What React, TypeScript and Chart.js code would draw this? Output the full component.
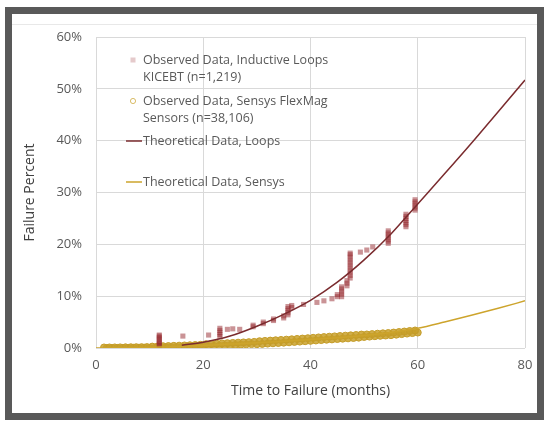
import React, { useEffect, useRef } from "react";
import { Chart, registerables } from "chart.js";

Chart.register(...registerables);

// ---------- data (time in months, failure in percent) ----------
const xTickValues = [0, 20, 40, 60, 80];
const yTickValues = [0, 10, 20, 30, 40, 50, 60];

const legendLines = [
  ["Observed Data, Inductive Loops", "KICEBT (n=1,219)"],
  ["Observed Data, Sensys FlexMag", "Sensors (n=38,106)"],
  ["Theoretical Data, Loops"],
  ["Theoretical Data, Sensys"],
];

const loopObsX = [
  11.8, 11.8, 11.8, 11.8, 11.8, 11.8, 11.8, 11.8,
  16.2, 21.0,
  23.1, 23.1, 23.1, 23.1, 23.1,
  24.5, 25.5, 26.8,
  29.3, 29.3, 31.2, 31.2, 33.1, 33.1, 35.0, 35.0,
  35.8, 35.8, 35.8, 35.8, 35.8, 36.5, 36.5,
  38.7, 41.2, 42.5, 44.0, 45.0, 45.0,
  45.8, 45.8, 45.8, 45.8, 45.8, 46.8, 46.8, 46.8,
  47.4, 47.4, 47.4, 47.4, 47.4, 47.4, 47.4, 47.4, 47.4, 47.4, 47.4,
  49.3, 50.5, 51.6,
  54.5, 54.5, 54.5, 54.5, 54.5, 54.5, 54.5,
  57.8, 57.8, 57.8, 57.8, 57.8, 57.8, 57.8,
  59.5, 59.5, 59.5, 59.5, 59.5, 59.5,
];
const loopObsY = [
  0.5, 0.8, 1.1, 1.4, 1.7, 2.0, 2.3, 2.5,
  2.3, 2.5,
  2.2, 2.6, 3.0, 3.4, 3.8,
  3.6, 3.7, 3.6,
  4.1, 4.4, 4.7, 5.0, 5.3, 5.6, 5.8, 6.2,
  6.4, 6.8, 7.2, 7.6, 8.0, 7.8, 8.2,
  8.4, 8.8, 9.1, 9.5, 9.9, 10.3,
  9.9, 10.4, 10.9, 11.4, 11.8, 12.0, 12.5, 13.0,
  13.5, 14.0, 14.5, 15.0, 15.5, 16.0, 16.5, 17.0, 17.5, 18.0, 18.3,
  18.5, 18.9, 19.5,
  20.2, 20.6, 21.0, 21.4, 21.8, 22.2, 22.6,
  23.4, 23.8, 24.2, 24.6, 25.0, 25.4, 25.8,
  26.6, 27.0, 27.4, 27.8, 28.2, 28.6,
];

// lower row of the dense sensor band
const sensysLowX = [
  2, 3, 4, 5, 6, 7, 8, 9, 10, 11, 12, 13, 14, 15, 16, 17, 18, 19, 20,
  21, 22, 23, 24, 25, 26, 27, 28, 29, 30, 31, 32, 33, 34, 35, 36, 37, 38, 39, 40,
  41, 42, 43, 44, 45, 46, 47, 48, 49, 50, 51, 52, 53, 54, 55, 56, 57, 58, 59, 60,
];
const sensysLowY = [
  0.0, 0.0, 0.01, 0.02, 0.03, 0.04, 0.05, 0.06, 0.01, 0.04, 0.08, 0.11, 0.14, 0.18, 0.22, 0.26, 0.3, 0.34, 0.3,
  0.35, 0.4, 0.45, 0.5, 0.55, 0.6, 0.65, 0.7, 0.75, 0.73, 0.79, 0.85, 0.91, 0.97, 1.03, 1.1, 1.17, 1.23, 1.31, 1.38,
  1.45, 1.53, 1.6, 1.66, 1.73, 1.8, 1.86, 1.93, 2.0, 2.13, 2.2, 2.28, 2.35, 2.41, 2.48, 2.58, 2.68, 2.78, 2.88, 2.98,
];
// upper row of the dense sensor band
const sensysHighX = [
  1.5, 2.5, 3.5, 4.5, 5.5, 6.5, 7.5, 8.5, 9.5, 10.5, 11.5, 12.5, 13.5, 14.5, 15.5, 16.5, 17.5, 18.5, 19.5,
  20.5, 21.5, 22.5, 23.5, 24.5, 25.5, 26.5, 27.5, 28.5, 29.5, 30.5, 31.5, 32.5, 33.5, 34.5, 35.5, 36.5, 37.5, 38.5, 39.5,
  40.5, 41.5, 42.5, 43.5, 44.5, 45.5, 46.5, 47.5, 48.5, 49.5, 50.5, 51.5, 52.5, 53.5, 54.5, 55.5, 56.5, 57.5, 58.5, 59.5,
];
const sensysHighY = [
  0.1, 0.1, 0.11, 0.12, 0.13, 0.14, 0.15, 0.16, 0.17, 0.27, 0.3, 0.34, 0.37, 0.41, 0.45, 0.49, 0.53, 0.57, 0.61,
  0.73, 0.78, 0.83, 0.88, 0.93, 0.98, 1.03, 1.08, 1.13, 1.18, 1.31, 1.37, 1.43, 1.49, 1.55, 1.61, 1.68, 1.75, 1.82, 1.89,
  1.96, 2.04, 2.11, 2.18, 2.24, 2.31, 2.38, 2.44, 2.51, 2.59, 2.61, 2.68, 2.76, 2.83, 2.89, 2.98, 3.08, 3.18, 3.28, 3.38,
];

const loopTheoX = [16, 20, 25, 30, 35, 40, 45, 50, 55, 60, 65, 70, 75, 80];
const loopTheoY = [0.55, 1.1, 2.3, 4.2, 6.5, 9.2, 12.7, 17.0, 22.0, 27.8, 33.6, 39.5, 45.6, 51.7];

const sensysTheoX = [0, 5, 10, 15, 20, 25, 30, 35, 40, 45, 50, 55, 60, 65, 70, 75, 80];
const sensysTheoY = [0, 0.03, 0.12, 0.28, 0.5, 0.75, 1.0, 1.3, 1.62, 1.97, 2.4, 3.0, 3.8, 5.0, 6.3, 7.65, 9.1];

// ---------- styles ----------
const FONT = '"Open Sans", "Noto Sans", sans-serif';
const LOOP_LINE = "#7a2b2e";
const SENSYS_LINE = "#cda42c";
const SENSYS_MARK = "#c49c28";
const LOOP_MARK = "rgba(150, 40, 45, 0.5)";
const TEXT = "#595959";
const GRID = "#d9d9d9";

const pts = (xs: number[], ys: number[]) => xs.map((x, i) => ({ x, y: ys[i] }));

const legendPlugin = {
  id: "insideLegend",
  afterDraw(chart: any) {
    const ctx = chart.ctx as CanvasRenderingContext2D;
    ctx.save();
    ctx.font = `12.5px ${FONT}`;
    ctx.textBaseline = "middle";
    ctx.textAlign = "left";
    const tx = 143;
    const mx = 133;
    const rows = [60, 101, 141, 182];
    const lh = 17;
    legendLines.forEach((lines, i) => {
      const y0 = rows[i];
      ctx.fillStyle = TEXT;
      lines.forEach((t, j) => ctx.fillText(t, tx, y0 + j * lh));
      if (i === 0) {
        ctx.fillStyle = "rgba(150, 42, 48, 0.25)";
        ctx.fillRect(mx - 2.5, y0 - 2.5, 5, 5);
      } else if (i === 1) {
        ctx.beginPath();
        ctx.arc(mx, y0, 2.6, 0, Math.PI * 2);
        ctx.strokeStyle = "rgba(201,161,43,0.7)";
        ctx.lineWidth = 1;
        ctx.stroke();
      } else {
        ctx.beginPath();
        ctx.moveTo(126, y0);
        ctx.lineTo(142, y0);
        ctx.strokeStyle = i === 2 ? LOOP_LINE : SENSYS_LINE;
        ctx.lineWidth = 1.5;
        ctx.stroke();
      }
    });
    ctx.restore();
  },
};

export default function App() {
  const ref = useRef<HTMLCanvasElement | null>(null);

  useEffect(() => {
    if (!ref.current) return;
    const chart = new Chart(ref.current, {
      type: "scatter",
      data: {
        datasets: [
          {
            label: "Theoretical Data, Loops",
            data: pts(loopTheoX, loopTheoY),
            showLine: true,
            borderColor: LOOP_LINE,
            borderWidth: 1.5,
            pointRadius: 0,
            cubicInterpolationMode: "monotone",
            order: 0,
          },
          {
            label: "Theoretical Data, Sensys",
            data: pts(sensysTheoX, sensysTheoY),
            showLine: true,
            borderColor: SENSYS_LINE,
            borderWidth: 1.5,
            pointRadius: 0,
            cubicInterpolationMode: "monotone",
            order: 1,
          },
          {
            label: "Observed Data, Inductive Loops KICEBT (n=1,219)",
            data: pts(loopObsX, loopObsY),
            pointStyle: "rect",
            pointRadius: 3.6,
            backgroundColor: LOOP_MARK,
            borderWidth: 0,
            order: 2,
          },
          {
            label: "Observed Data, Sensys FlexMag Sensors (n=38,106)",
            data: [...pts(sensysLowX, sensysLowY), ...pts(sensysHighX, sensysHighY)],
            pointStyle: "circle",
            pointRadius: 3.5,
            borderColor: SENSYS_MARK,
            borderWidth: 1,
            backgroundColor: "rgba(200, 160, 42, 0.85)",
            order: 3,
          },
        ] as any,
      },
      options: {
        animation: false,
        responsive: false,
        devicePixelRatio: 1,
        layout: { padding: { left: 14, top: 37, right: 22, bottom: 8 } },
        plugins: {
          legend: { display: false },
          tooltip: { enabled: false },
        },
        scales: {
          x: {
            type: "linear",
            min: 0,
            max: 80,
            afterBuildTicks: (s: any) => {
              s.ticks = xTickValues.map((v) => ({ value: v }));
            },
            afterFit: (s: any) => {
              s.height = 66;
            },
            ticks: {
              padding: 9,
              color: TEXT,
              maxRotation: 0,
              font: { family: FONT, size: 13 },
            },
            grid: { color: GRID, drawTicks: false },
            border: { display: false },
            title: {
              display: true,
              text: "Time to Failure (months)",
              color: "#404040",
              font: { family: FONT, size: 14 },
              padding: { top: 0, bottom: 15 },
            },
          },
          y: {
            type: "linear",
            min: 0,
            max: 60,
            afterBuildTicks: (s: any) => {
              s.ticks = yTickValues.map((v) => ({ value: v }));
            },
            afterFit: (s: any) => {
              s.width = 82;
            },
            ticks: {
              padding: 14,
              color: TEXT,
              font: { family: FONT, size: 13 },
              callback: (v: any) => `${v}%`,
            },
            grid: { color: GRID, drawTicks: false },
            border: { display: false },
            title: {
              display: true,
              text: "Failure Percent",
              color: "#404040",
              font: { family: FONT, size: 14 },
              padding: { top: 8, bottom: 0 },
            },
          },
        },
      } as any,
      plugins: [legendPlugin],
    });
    return () => chart.destroy();
  }, []);

  return (
    <div
      style={{
        position: "absolute",
        left: 0,
        top: 0,
        width: 547,
        height: 422,
        background: "#ffffff",
        overflow: "hidden",
      }}
    >
      <div
        style={{
          position: "absolute",
          left: 5,
          top: 7,
          width: 539,
          height: 413,
          boxSizing: "border-box",
          border: "7px solid #595959",
        }}
      />
      <div
        style={{
          position: "absolute",
          left: 12,
          top: 24,
          width: 525,
          height: 1,
          background: "#e8e8e8",
        }}
      />
      <canvas
        ref={ref}
        width={547}
        height={422}
        style={{ position: "absolute", left: 0, top: 0, width: 547, height: 422 }}
      />
    </div>
  );
}
